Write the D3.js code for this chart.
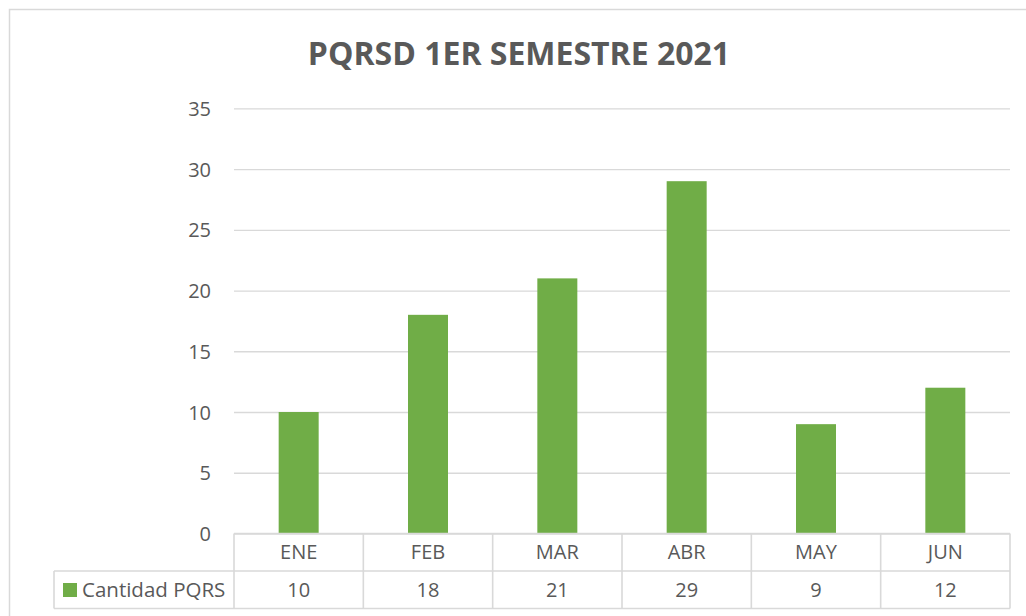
<!DOCTYPE html>
<html lang="es">
<head>
<meta charset="UTF-8" />
<title>PQRSD 1ER SEMESTRE 2021</title>
<script src="https://cdn.jsdelivr.net/npm/d3@7"></script>
<style>
  html, body { margin: 0; padding: 0; background: #fff; overflow: hidden; }
  svg text { font-family: "Open Sans", "Noto Sans", sans-serif; fill: #595959; }
</style>
</head>
<body>
<div id="chart"></div>
<script>
// data
var categories = ["ENE", "FEB", "MAR", "ABR", "MAY", "JUN"];
var values = [10, 18, 21, 29, 9, 12];
var yTicks = [0, 5, 10, 15, 20, 25, 30, 35];
var seriesName = "Cantidad PQRS";
var title = "PQRSD 1ER SEMESTRE 2021";

var w = 1026, h = 616;
var left = 234, right = 1010;
var top0 = 108.3, base = 533.5;
var rowH = 37.5;
var legendLeft = 54;
var grey = "#d9d9d9";
var green = "#70ad47";

var svg = d3.select("#chart")
  .append("svg")
  .attr("width", w)
  .attr("height", h);

// outer chart frame (runs off the picture on right and bottom)
svg.append("rect")
  .attr("x", 9.5)
  .attr("y", 9.5)
  .attr("width", 1040)
  .attr("height", 640)
  .attr("fill", "none")
  .attr("stroke", grey)
  .attr("stroke-width", 1.5);

svg.append("text")
  .attr("x", 519)
  .attr("y", 65)
  .attr("text-anchor", "middle")
  .style("font-size", "32px")
  .style("font-weight", "bold")
  .text(title);

var xScale = d3.scaleBand()
  .domain(categories)
  .range([left, right]);

var yScale = d3.scaleLinear()
  .domain([0, 35])
  .range([base, top0]);

// gridlines + labels
var yAxis = d3.axisLeft(yScale)
  .tickValues(yTicks)
  .tickSize(-(right - left))
  .tickPadding(23);

var gy = svg.append("g")
  .attr("class", "y-axis")
  .attr("transform", "translate(" + left + ",0)")
  .call(yAxis);
gy.select(".domain").remove();
gy.selectAll(".tick line")
  .attr("stroke", grey)
  .attr("stroke-width", 1.3);
gy.selectAll(".tick text")
  .attr("fill", "#595959")
  .style("font-size", "20px")
  .attr("dy", "0.36em");

// bars
var bw = 40;
svg.selectAll("rect.bar")
  .data(values)
  .enter()
  .append("rect")
  .attr("class", "bar")
  .attr("x", function(d, i) { return xScale(categories[i]) + (xScale.bandwidth() - bw) / 2; })
  .attr("y", function(d) { return yScale(d); })
  .attr("width", bw)
  .attr("height", function(d) { return base - yScale(d); })
  .attr("fill", green);

// data table
var tbl = svg.append("g").attr("class", "table");
var line = function(x1, y1, x2, y2) {
  tbl.append("line")
    .attr("x1", x1).attr("y1", y1)
    .attr("x2", x2).attr("y2", y2)
    .attr("stroke", grey)
    .attr("stroke-width", 1.6);
};
line(left, base, right, base);
line(legendLeft, base + rowH, right, base + rowH);
line(legendLeft, base + 2 * rowH, right, base + 2 * rowH);
line(legendLeft, base + rowH, legendLeft, base + 2 * rowH);
categories.forEach(function(c) { line(xScale(c), base, xScale(c), base + 2 * rowH); });
line(right, base, right, base + 2 * rowH);

tbl.selectAll("text.cat")
  .data(categories)
  .enter()
  .append("text")
  .attr("class", "cat")
  .attr("x", function(d) { return xScale(d) + xScale.bandwidth() / 2; })
  .attr("y", base + rowH / 2)
  .attr("dy", "0.36em")
  .attr("text-anchor", "middle")
  .style("font-size", "20px")
  .text(function(d) { return d; });

tbl.selectAll("text.val")
  .data(values)
  .enter()
  .append("text")
  .attr("class", "val")
  .attr("x", function(d, i) { return xScale(categories[i]) + xScale.bandwidth() / 2; })
  .attr("y", base + rowH * 1.5)
  .attr("dy", "0.36em")
  .attr("text-anchor", "middle")
  .style("font-size", "20px")
  .text(function(d) { return d; });

// legend key in table
tbl.append("rect")
  .attr("x", 63)
  .attr("y", 583)
  .attr("width", 14)
  .attr("height", 14)
  .attr("fill", green);
tbl.append("text")
  .attr("x", 82)
  .attr("y", base + rowH * 1.5)
  .attr("dy", "0.36em")
  .style("font-size", "20.5px")
  .text(seriesName);
</script>
</body>
</html>
